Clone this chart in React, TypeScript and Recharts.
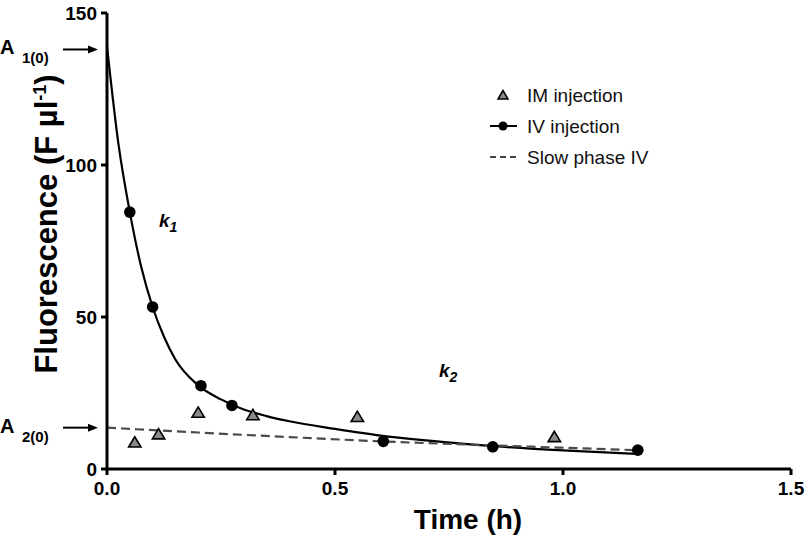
import React from 'react';
import { ComposedChart, Line, Scatter, XAxis, YAxis, ReferenceDot, Legend, Label } from 'recharts';

// ---- data ----
const imTime = [0.061, 0.113, 0.2, 0.32, 0.549, 0.981];
const imFluor = [8.8, 11.5, 18.6, 17.8, 17.2, 10.6];

const ivTime = [0.05, 0.1, 0.206, 0.274, 0.606, 0.846, 1.164];
const ivFluor = [84.5, 53.3, 27.4, 20.9, 9.1, 7.3, 6.2];

const fitTime = [0, 0.025, 0.05, 0.075, 0.1, 0.125, 0.15, 0.2, 0.25, 0.3, 0.35, 0.4, 0.5, 0.6, 0.7, 0.85, 1.0, 1.16];
const fitFluor = [139, 107, 84.5, 66.5, 53.3, 43.5, 36, 27.5, 22.9, 19.6, 17.4, 15.7, 13.2, 11.0, 9.4, 7.5, 6.1, 5.0];

const slowTime = [0, 0.2, 0.4, 0.6, 0.8, 1.0, 1.16];
const slowFluor = [13.6, 12.0, 10.5, 9.1, 8.0, 7.0, 6.2];

const xTicks = [0, 0.5, 1.0, 1.5];
const yTicks = [0, 50, 100, 150];
const legendLabels = ['IM injection', 'IV injection', 'Slow phase IV'];

const A1_0 = 138;
const A2_0 = 13.6;
const k1Pos = [0.114, 79.6];
const k2Pos = [0.728, 30.3];

// ---- derived tables ----
const zip = (xs: number[], ys: number[]) => xs.map((x, i) => ({ x, y: ys[i] }));
const imData = zip(imTime, imFluor);
const ivData = zip(ivTime, ivFluor);
const fitData = zip(fitTime, fitFluor);
const slowData = zip(slowTime, slowFluor);

const FONT = '"Liberation Sans", Arial, Helvetica, sans-serif';

const Triangle = (props: any) => {
  const { cx, cy } = props;
  if (cx == null || cy == null) return null;
  return (
    <polygon
      points={`${cx},${cy - 5.5} ${cx - 6.2},${cy + 4.8} ${cx + 6.2},${cy + 4.8}`}
      fill="#8a8a8a"
      stroke="#000"
      strokeWidth={1.6}
      strokeLinejoin="miter"
    />
  );
};

const Dot = (props: any) => {
  const { cx, cy } = props;
  if (cx == null || cy == null) return null;
  return <circle cx={cx} cy={cy} r={5.8} fill="#000" />;
};

const arrowMarker = (sub: string) => (props: any) => {
  const { cx, cy } = props;
  if (cx == null || cy == null) return null;
  const end = cx - 9;
  const start = cx - 44;
  return (
    <g fontFamily={FONT} fontWeight="bold" fill="#000">
      <line x1={start} y1={cy} x2={end - 8} y2={cy} stroke="#000" strokeWidth={2} />
      <polygon points={`${end},${cy} ${end - 10},${cy - 4} ${end - 10},${cy + 4}`} fill="#000" />
      <text x={cx - 107} y={cy + 5} fontSize={20}>A</text>
      <text x={cx - 85} y={cy + 14} fontSize={15}>{sub}</text>
    </g>
  );
};

const kLabel = (sub: string) => (props: any) => {
  const { cx, cy } = props;
  if (cx == null || cy == null) return null;
  return (
    <text x={cx} y={cy} fontFamily={FONT} fontWeight="bold" fontStyle="italic" fontSize={19} fill="#000">
      k<tspan fontSize={14} dy={5}>{sub}</tspan>
    </text>
  );
};

const XTitle = (props: any) => {
  const vb = props.viewBox || {};
  return (
    <text x={vb.x + vb.width / 2 + 19} y={vb.y + 60} textAnchor="middle" fontFamily={FONT} fontWeight="bold" fontSize={28} fill="#000">
      Time (h)
    </text>
  );
};

const YTitle = (props: any) => {
  const vb = props.viewBox || {};
  const bx = vb.x + 57;
  const cy = vb.y + vb.height / 2 - 17;
  return (
    <text x={bx} y={cy} transform={`rotate(-90, ${bx}, ${cy})`} textAnchor="middle" fontFamily={FONT} fontWeight="bold" fontSize={31} fill="#000">
      Fluorescence (F µl<tspan fontSize={18} dy={-11}>-1</tspan><tspan dy={11}>)</tspan>
    </text>
  );
};

const LegendContent = () => {
  const rows = [15, 46, 77];
  return (
    <svg width={175} height={95} style={{ display: 'block' }}>
      <g fontFamily={FONT} fontSize={19} fill="#111">
        <polygon points={`18,${rows[0] - 4.5} 13,${rows[0] + 4} 23,${rows[0] + 4}`} fill="#8a8a8a" stroke="#000" strokeWidth={1.5} />
        <text x={42} y={rows[0] + 7}>{legendLabels[0]}</text>
        <line x1={5} y1={rows[1]} x2={32} y2={rows[1]} stroke="#000" strokeWidth={2} />
        <circle cx={18} cy={rows[1]} r={4.5} fill="#000" />
        <text x={42} y={rows[1] + 7}>{legendLabels[1]}</text>
        <line x1={5} y1={rows[2]} x2={32} y2={rows[2]} stroke="#444" strokeWidth={2} strokeDasharray="6 4" />
        <text x={42} y={rows[2] + 7}>{legendLabels[2]}</text>
      </g>
    </svg>
  );
};

const tickStyle = { fill: '#000', fontSize: 19, fontWeight: 'bold', fontFamily: FONT };

export default function App() {
  return (
    <div style={{ position: 'absolute', left: 0, top: 0, width: 806, height: 543, background: '#fff' }}>
      <ComposedChart width={806} height={543} margin={{ top: 13, right: 15, bottom: 0, left: 0 }}>
        <XAxis
          dataKey="x"
          type="number"
          domain={[0, 1.5]}
          ticks={xTicks}
          tickFormatter={(v: number) => v.toFixed(1)}
          height={74}
          tick={tickStyle}
          tickSize={6}
          tickMargin={7}
          axisLine={{ stroke: '#000', strokeWidth: 3 }}
          tickLine={{ stroke: '#000', strokeWidth: 3 }}
          allowDataOverflow
        >
          <Label content={<XTitle />} />
        </XAxis>
        <YAxis
          dataKey="y"
          type="number"
          domain={[0, 150]}
          ticks={yTicks}
          width={107}
          tick={tickStyle}
          tickSize={6}
          tickMargin={4}
          axisLine={{ stroke: '#000', strokeWidth: 3 }}
          tickLine={{ stroke: '#000', strokeWidth: 3 }}
          allowDataOverflow
        >
          <Label content={<YTitle />} />
        </YAxis>
        <Line data={fitData} dataKey="y" type="monotone" stroke="#000" strokeWidth={2.2} dot={false} activeDot={false} isAnimationActive={false} />
        <Line data={slowData} dataKey="y" type="monotone" stroke="#4a4a4a" strokeWidth={2.2} strokeDasharray="9 5" dot={false} activeDot={false} isAnimationActive={false} />
        <Scatter data={imData} dataKey="y" shape={Triangle} isAnimationActive={false} />
        <Scatter data={ivData} dataKey="y" shape={Dot} isAnimationActive={false} />
        <ReferenceDot x={0} y={A1_0} ifOverflow="visible" shape={arrowMarker('1(0)')} />
        <ReferenceDot x={0} y={A2_0} ifOverflow="visible" shape={arrowMarker('2(0)')} />
        <ReferenceDot x={k1Pos[0]} y={k1Pos[1]} ifOverflow="visible" shape={kLabel('1')} />
        <ReferenceDot x={k2Pos[0]} y={k2Pos[1]} ifOverflow="visible" shape={kLabel('2')} />
        <Legend
          content={<LegendContent />}
          layout="vertical"
          align="center"
          verticalAlign="middle"
          wrapperStyle={{ left: 485, top: 80, width: 175, height: 95 }}
        />
      </ComposedChart>
    </div>
  );
}
